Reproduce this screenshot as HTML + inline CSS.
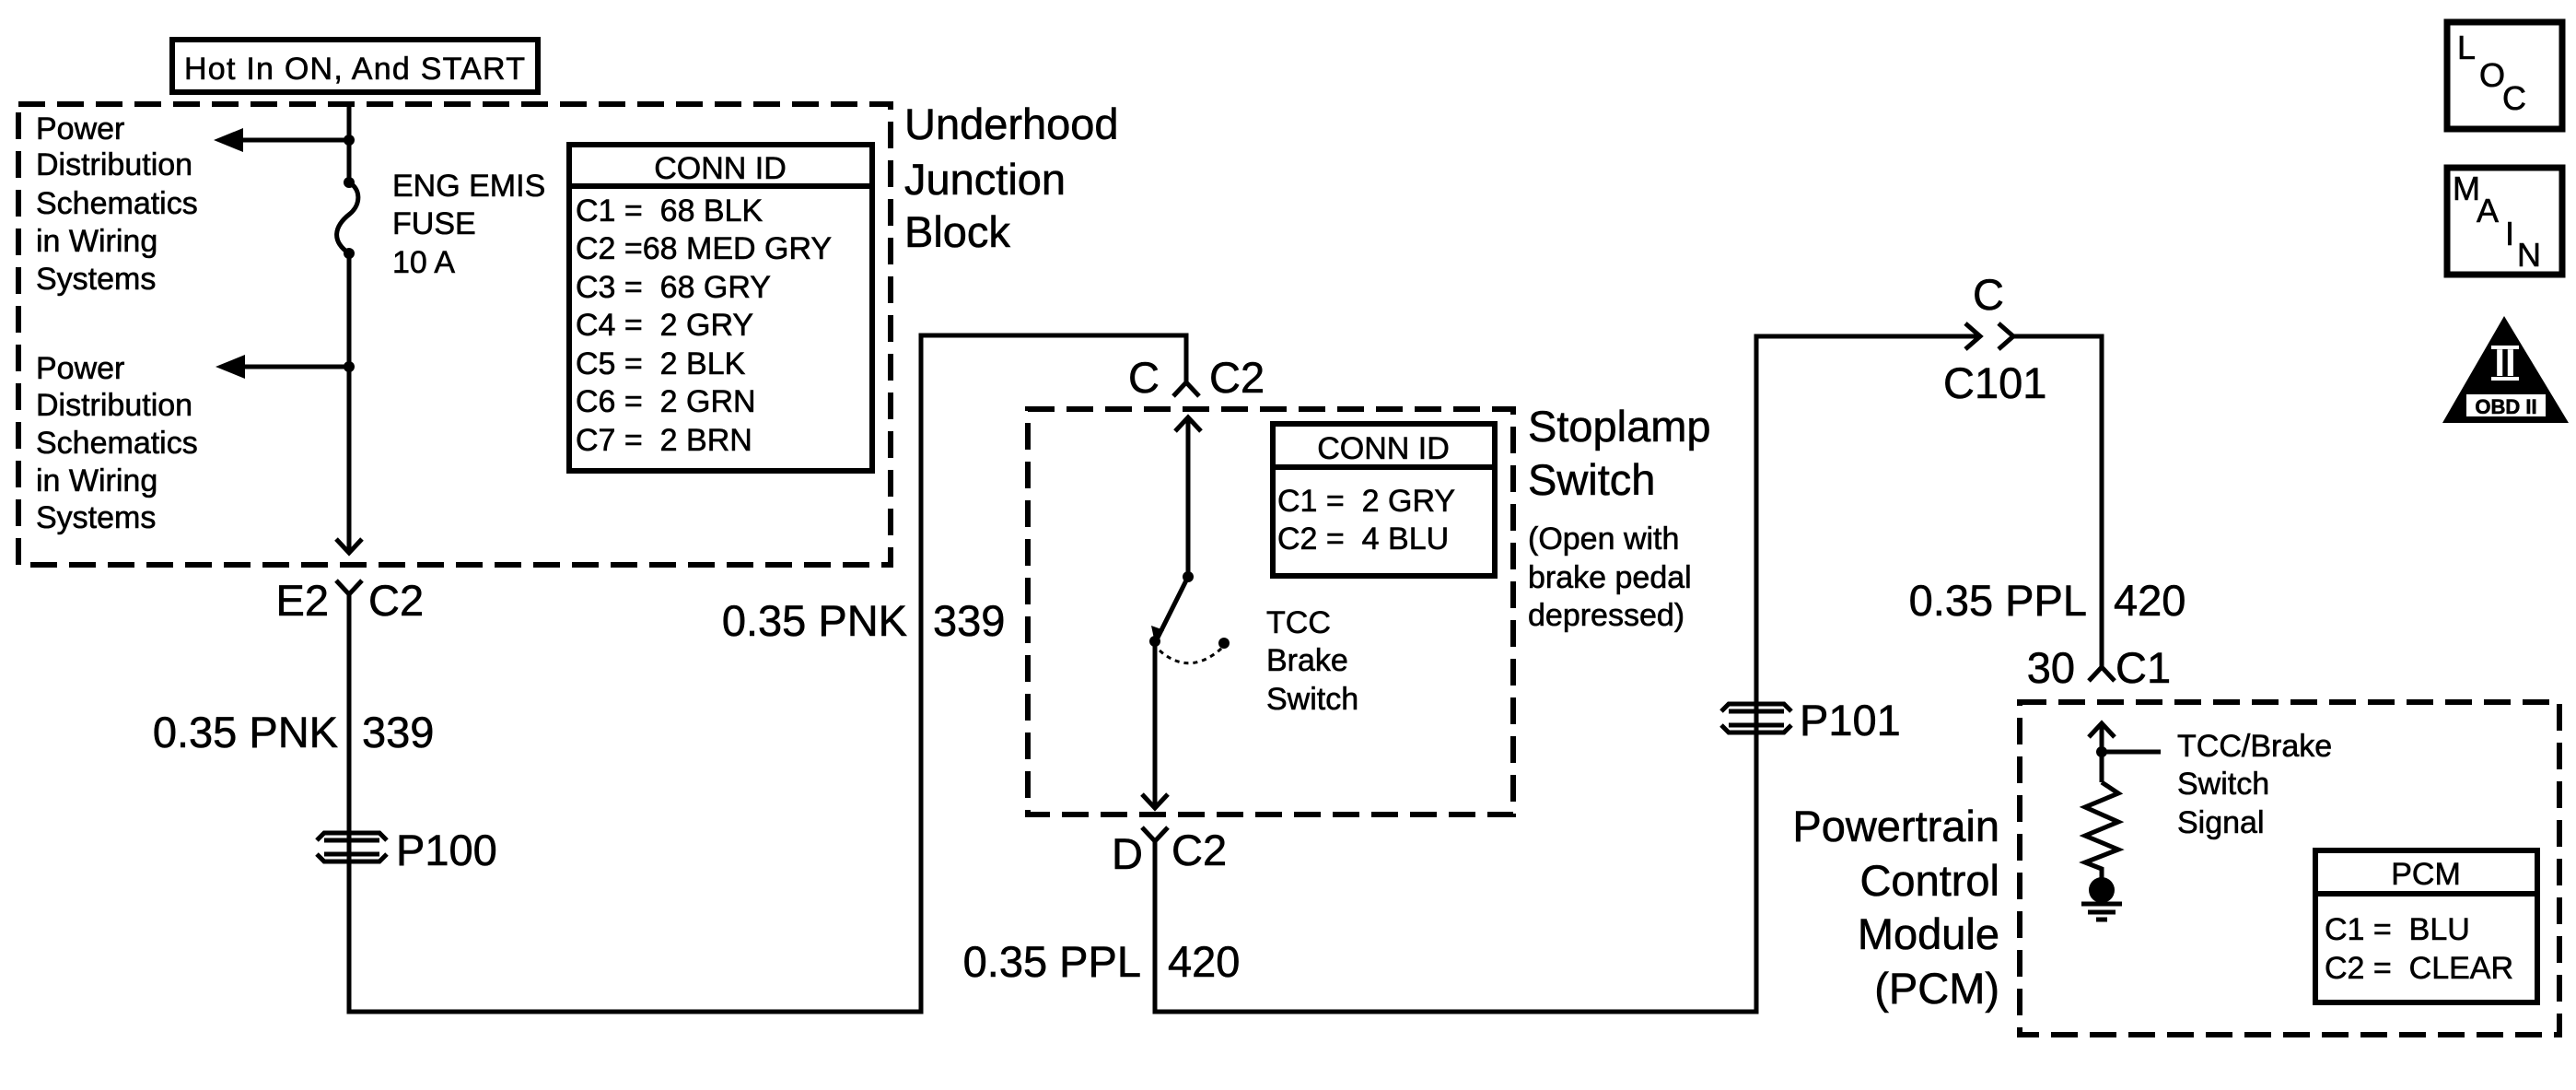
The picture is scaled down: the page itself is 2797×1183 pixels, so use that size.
<!DOCTYPE html>
<html><head><meta charset="utf-8"><style>
html,body{margin:0;padding:0;background:#fff;}
svg{display:block}
text{font-family:"Liberation Sans",Arial,sans-serif;fill:#000;stroke:#000;stroke-width:0.6}
.s{font-size:34px}.m{font-size:47px}.h{font-size:34px}
</style></head><body>
<svg width="2797" height="1183" viewBox="0 0 2797 1183" xmlns="http://www.w3.org/2000/svg">
<g fill="none" stroke="#000" stroke-width="5">
<rect x="187" y="43" width="397" height="57" stroke-width="6"/>
<g stroke-width="6" stroke-dasharray="29,13">
<rect x="20" y="113" width="947" height="500"/>
<rect x="1116" y="444" width="527" height="440"/>
<rect x="2193" y="762" width="586" height="361"/>
</g>
<path d="M379 115 V198 M379 275 V600"/>
<path d="M379 198 C392 205 392 222 380 232 C362 246 360 262 379 275"/>
<path d="M379 152 H250 M379 398 H252"/>
<path d="M365 585 L379 600 L393 585"/>
<path d="M365 630 L379 645 L393 630 M379 645 V1098 H1000 V364 H1288 V415"/>
<path d="M1274 430 L1288 415 L1302 430"/>
<path d="M1276 468 L1290 453 L1304 468 M1290 453 V626"/>
<path d="M1290 626 L1257 692"/>
<path d="M1254 696 V877 M1240 862 L1254 877 L1268 862"/>
<path d="M1259 706 Q1292 735 1327 703" stroke-dasharray="5,5" stroke-width="3"/>
<path d="M1240 898 L1254 913 L1268 898 M1254 913 V1098 H1907 V365 H2150"/>
<path d="M2134 351 L2150 365 L2134 379 M2170 351 L2186 365 L2170 379 M2186 365 H2282 V724"/>
<path d="M2268 739 L2282 724 L2296 739"/>
<path d="M2268 800 L2282 785 L2296 800 M2282 785 V849 M2282 816 H2346"/>
<path d="M2282 849 L2300 861 L2264 876 L2300 892 L2264 907 L2300 922 L2264 936 L2282 943 V966"/>
<path d="M2260 981 H2304 M2267 990 H2297 M2276 998 H2288"/>
<path d="M344 912 L352 904 H412 L420 912 M344 927 L352 935 H412 L420 927 M352 912 H412 M352 927 H412"/>
<path d="M1869 772 L1877 764 H1937 L1945 772 M1869 787 L1877 795 H1937 L1945 787 M1877 772 H1937 M1877 787 H1937"/>
<rect x="618" y="157" width="329" height="354" stroke-width="6"/>
<path d="M618 202 H947" stroke-width="6"/>
<rect x="1382" y="460" width="241" height="165" stroke-width="6"/>
<path d="M1382 507 H1623" stroke-width="6"/>
<rect x="2514" y="923" width="241" height="165" stroke-width="6"/>
<path d="M2514 970 H2755" stroke-width="6"/>
<rect x="2657" y="24" width="125" height="116" stroke-width="7"/>
<rect x="2657" y="182" width="125" height="116" stroke-width="7"/>
</g>
<g fill="#000">
<path d="M232 152 L264 139 L264 165 Z M234 398 L266 385 L266 411 Z"/>
<path d="M1254 698 L1250 679 L1264 684 Z"/>
<circle cx="379" cy="152" r="6"/><circle cx="379" cy="198" r="6"/><circle cx="379" cy="275" r="6"/><circle cx="379" cy="398" r="6"/>
<circle cx="1290" cy="626" r="6"/><circle cx="1254" cy="696" r="6"/><circle cx="1329" cy="698" r="6"/>
<circle cx="2282" cy="816" r="6"/><circle cx="2282" cy="966" r="14"/>
<path d="M2719 343 L2789 459 L2652 459 Z"/>
</g>
<rect x="2677" y="427" width="88" height="26" fill="#fff" stroke="#000" stroke-width="2"/>
<text x="2721" y="449" font-size="22" text-anchor="middle" font-weight="bold">OBD II</text>
<text x="2720" y="408" font-size="42" text-anchor="middle" font-weight="bold" style="fill:#fff;stroke:none">II</text>
<path d="M2705 377 H2735 M2705 411 H2735" stroke="#fff" stroke-width="4"/>

<text x="200" y="86" class="h" textLength="370">Hot In ON, And START</text>
<g class="s">
<text x="39" y="151">Power</text><text x="39" y="190">Distribution</text><text x="39" y="232">Schematics</text><text x="39" y="273">in Wiring</text><text x="39" y="314">Systems</text>
<text x="39" y="411">Power</text><text x="39" y="451">Distribution</text><text x="39" y="492">Schematics</text><text x="39" y="533">in Wiring</text><text x="39" y="573">Systems</text>
<text x="426" y="213">ENG EMIS</text><text x="426" y="254">FUSE</text><text x="426" y="296">10 A</text>
<text x="782" y="194" text-anchor="middle">CONN ID</text>
<text x="625" y="240" xml:space="preserve">C1 =  68 BLK</text>
<text x="625" y="281" xml:space="preserve">C2 =68 MED GRY</text>
<text x="625" y="323" xml:space="preserve">C3 =  68 GRY</text>
<text x="625" y="364" xml:space="preserve">C4 =  2 GRY</text>
<text x="625" y="406" xml:space="preserve">C5 =  2 BLK</text>
<text x="625" y="447" xml:space="preserve">C6 =  2 GRN</text>
<text x="625" y="489" xml:space="preserve">C7 =  2 BRN</text>
<text x="1502" y="498" text-anchor="middle">CONN ID</text>
<text x="1387" y="555" xml:space="preserve">C1 =  2 GRY</text>
<text x="1387" y="596" xml:space="preserve">C2 =  4 BLU</text>
<text x="1659" y="596">(Open with</text><text x="1659" y="638">brake pedal</text><text x="1659" y="679">depressed)</text>
<text x="1375" y="687">TCC</text><text x="1375" y="728">Brake</text><text x="1375" y="770">Switch</text>
<text x="2364" y="821">TCC/Brake</text><text x="2364" y="862">Switch</text><text x="2364" y="904">Signal</text>
<text x="2634" y="960" text-anchor="middle">PCM</text>
<text x="2524" y="1020" xml:space="preserve">C1 =  BLU</text>
<text x="2524" y="1062" xml:space="preserve">C2 =  CLEAR</text>
</g>
<g class="m">
<text x="982" y="151">Underhood</text><text x="982" y="211">Junction</text><text x="982" y="268">Block</text>
<text x="1659" y="479">Stoplamp</text><text x="1659" y="537">Switch</text>
<text x="357" y="668" text-anchor="end">E2</text><text x="400" y="668">C2</text>
<text x="367" y="811" text-anchor="end">0.35 PNK</text><text x="393" y="811">339</text>
<text x="430" y="939">P100</text>
<text x="985" y="690" text-anchor="end">0.35 PNK</text><text x="1013" y="690">339</text>
<text x="1259" y="426" text-anchor="end">C</text><text x="1313" y="426">C2</text>
<text x="1241" y="943" text-anchor="end">D</text><text x="1272" y="939">C2</text>
<text x="1239" y="1060" text-anchor="end">0.35 PPL</text><text x="1268" y="1060">420</text>
<text x="2159" y="336" text-anchor="middle">C</text><text x="2110" y="432">C101</text>
<text x="1954" y="798">P101</text>
<text x="2266" y="668" text-anchor="end">0.35 PPL</text><text x="2295" y="668">420</text>
<text x="2253" y="741" text-anchor="end">30</text><text x="2297" y="741">C1</text>
<text x="2171" y="913" text-anchor="end">Powertrain</text><text x="2171" y="972" text-anchor="end">Control</text><text x="2171" y="1030" text-anchor="end">Module</text><text x="2171" y="1089" text-anchor="end">(PCM)</text>
</g>
<g font-size="36">
<text x="2668" y="64">L</text><text x="2692" y="94">O</text><text x="2717" y="119">C</text>
<text x="2663" y="217">M</text><text x="2689" y="241">A</text><text x="2720" y="266">I</text><text x="2733" y="289">N</text>
</g>
</svg>
</body></html>
